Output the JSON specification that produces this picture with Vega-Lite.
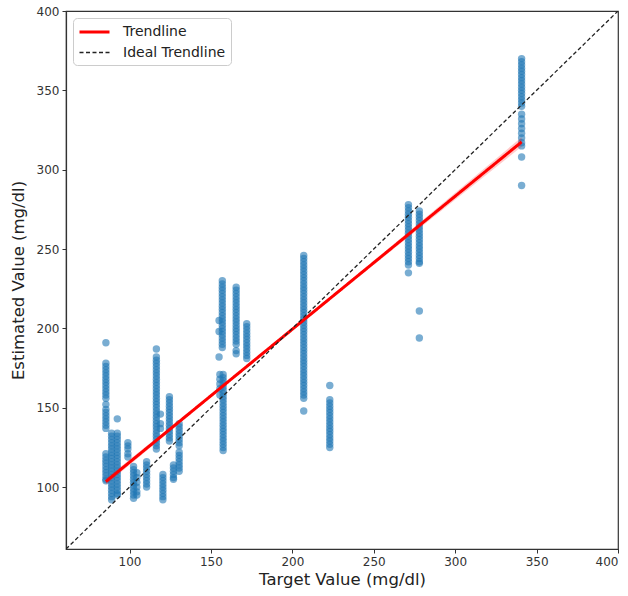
{
  "$schema": "https://vega.github.io/schema/vega-lite/v6.json",
  "width": 552,
  "height": 538,
  "autosize": {"type": "none"},
  "padding": {"left": 66, "top": 11, "right": 10, "bottom": 47},
  "config": {
    "font": "DejaVu Sans",
    "view": {"stroke": "#333333", "strokeWidth": 1.2},
    "axis": {
      "grid": false,
      "domainColor": "#333333",
      "domainWidth": 1.2,
      "tickColor": "#333333",
      "tickSize": 4,
      "labelColor": "#333333",
      "labelFontSize": 12,
      "labelPadding": 3,
      "titleFontSize": 16.5,
      "titleFontWeight": "normal",
      "titleColor": "#222222"
    },
    "axisX": {"titlePadding": 4},
    "axisY": {"titlePadding": 10},
    "legend": {
      "orient": "top-left",
      "offset": 7,
      "fillColor": "white",
      "strokeColor": "#cccccc",
      "cornerRadius": 4,
      "padding": 5,
      "labelFontSize": 14,
      "labelColor": "#222222",
      "symbolType": "M-1,0H3",
      "symbolSize": 225,
      "labelOffset": 27,
      "rowPadding": 5
    }
  },
  "datasets": {
    "pts": [
      {"t":85.5,"e":191},{"t":85.5,"e":178},{"t":85.5,"e":176},{"t":85.5,"e":174},{"t":85.5,"e":172},{"t":85.5,"e":170},{"t":85.5,"e":168},{"t":85.5,"e":166},{"t":85.5,"e":164},{"t":85.5,"e":162},{"t":85.5,"e":160},{"t":85.5,"e":158},{"t":85.5,"e":156},{"t":85.5,"e":152},{"t":85.5,"e":149},{"t":85.5,"e":147},{"t":85.5,"e":145},{"t":85.5,"e":143},{"t":85.5,"e":141},{"t":85.5,"e":139},{"t":85.5,"e":137},{"t":85.5,"e":121},{"t":85.5,"e":119},{"t":85.5,"e":117},{"t":85.5,"e":115},{"t":85.5,"e":113},{"t":85.5,"e":111},{"t":85.5,"e":109},{"t":85.5,"e":107},{"t":85.5,"e":105},{"t":85.5,"e":104},
      {"t":89,"e":134},{"t":89,"e":132},{"t":89,"e":130},{"t":89,"e":128},{"t":89,"e":126},{"t":89,"e":124},{"t":89,"e":122},{"t":89,"e":120},{"t":89,"e":118},{"t":89,"e":116},{"t":89,"e":114},{"t":89,"e":112},{"t":89,"e":110},{"t":89,"e":108},{"t":89,"e":106},{"t":89,"e":104},{"t":89,"e":102},{"t":89,"e":100},{"t":89,"e":98},{"t":89,"e":96},{"t":89,"e":94},{"t":89,"e":92},
      {"t":92.5,"e":143},{"t":92.5,"e":134},{"t":92.5,"e":132},{"t":92.5,"e":130},{"t":92.5,"e":128},{"t":92.5,"e":126},{"t":92.5,"e":124},{"t":92.5,"e":122},{"t":92.5,"e":120},{"t":92.5,"e":118},{"t":92.5,"e":116},{"t":92.5,"e":114},{"t":92.5,"e":112},{"t":92.5,"e":110},{"t":92.5,"e":108},{"t":92.5,"e":106},{"t":92.5,"e":104},{"t":92.5,"e":102},{"t":92.5,"e":100},{"t":92.5,"e":98},{"t":92.5,"e":96},{"t":92.5,"e":95},
      {"t":99,"e":128},{"t":99,"e":126},{"t":99,"e":124},{"t":99,"e":121},{"t":99,"e":119},
      {"t":102.5,"e":113},{"t":102.5,"e":111},{"t":102.5,"e":109},{"t":102.5,"e":107},{"t":102.5,"e":105},{"t":102.5,"e":103},{"t":102.5,"e":101},{"t":102.5,"e":99},{"t":102.5,"e":97},{"t":102.5,"e":95},{"t":102.5,"e":93},
      {"t":104.5,"e":109},{"t":104.5,"e":106},{"t":104.5,"e":103},{"t":104.5,"e":100},{"t":104.5,"e":97},{"t":104.5,"e":95},
      {"t":110.5,"e":116},{"t":110.5,"e":114},{"t":110.5,"e":112},{"t":110.5,"e":110},{"t":110.5,"e":108},{"t":110.5,"e":106},{"t":110.5,"e":104},{"t":110.5,"e":102},{"t":110.5,"e":100},
      {"t":116.5,"e":187},{"t":116.5,"e":182},{"t":116.5,"e":180},{"t":116.5,"e":178},{"t":116.5,"e":176},{"t":116.5,"e":174},{"t":116.5,"e":172},{"t":116.5,"e":170},{"t":116.5,"e":168},{"t":116.5,"e":166},{"t":116.5,"e":164},{"t":116.5,"e":162},{"t":116.5,"e":160},{"t":116.5,"e":158},{"t":116.5,"e":156},{"t":116.5,"e":154},{"t":116.5,"e":152},{"t":116.5,"e":150},{"t":116.5,"e":148},{"t":116.5,"e":146},{"t":116.5,"e":144},{"t":116.5,"e":142},{"t":116.5,"e":140},{"t":116.5,"e":138},{"t":116.5,"e":136},{"t":116.5,"e":134},{"t":116.5,"e":132},{"t":116.5,"e":130},{"t":116.5,"e":128},{"t":116.5,"e":126},{"t":116.5,"e":124},
      {"t":119,"e":146},{"t":119,"e":140},{"t":119,"e":137},
      {"t":120.5,"e":108},{"t":120.5,"e":106},{"t":120.5,"e":104},{"t":120.5,"e":102},{"t":120.5,"e":100},{"t":120.5,"e":98},{"t":120.5,"e":96},{"t":120.5,"e":94},{"t":120.5,"e":92},
      {"t":124.5,"e":157},{"t":124.5,"e":155},{"t":124.5,"e":153},{"t":124.5,"e":151},{"t":124.5,"e":149},{"t":124.5,"e":147},{"t":124.5,"e":145},{"t":124.5,"e":143},{"t":124.5,"e":141},{"t":124.5,"e":139},{"t":124.5,"e":137},{"t":124.5,"e":135},{"t":124.5,"e":133},{"t":124.5,"e":131},{"t":124.5,"e":129},
      {"t":127,"e":114},{"t":127,"e":112},{"t":127,"e":110},{"t":127,"e":108},{"t":127,"e":106},{"t":127,"e":105},
      {"t":130.5,"e":140},{"t":130.5,"e":138},{"t":130.5,"e":136},{"t":130.5,"e":134},{"t":130.5,"e":132},{"t":130.5,"e":130},{"t":130.5,"e":128},{"t":130.5,"e":126},{"t":130.5,"e":122},{"t":130.5,"e":120},{"t":130.5,"e":118},{"t":130.5,"e":116},{"t":130.5,"e":114},{"t":130.5,"e":112},{"t":130.5,"e":110},
      {"t":157,"e":230},{"t":157,"e":228},{"t":157,"e":226},{"t":157,"e":224},{"t":157,"e":222},{"t":157,"e":220},{"t":157,"e":218},{"t":157,"e":216},{"t":157,"e":214},{"t":157,"e":212},{"t":157,"e":210},{"t":157,"e":208},{"t":157,"e":206},{"t":157,"e":204},{"t":157,"e":202},{"t":157,"e":200},{"t":157,"e":198},{"t":157,"e":196},{"t":157,"e":194},{"t":157,"e":192},{"t":157,"e":190},{"t":157,"e":188},
      {"t":155,"e":205},{"t":155,"e":198},{"t":155,"e":182},
      {"t":157.5,"e":171},{"t":157.5,"e":169},{"t":157.5,"e":167},{"t":157.5,"e":165},{"t":157.5,"e":163},{"t":157.5,"e":161},{"t":157.5,"e":159},{"t":157.5,"e":157},{"t":157.5,"e":155},{"t":157.5,"e":153},{"t":157.5,"e":151},{"t":157.5,"e":149},{"t":157.5,"e":147},{"t":157.5,"e":145},{"t":157.5,"e":143},{"t":157.5,"e":141},{"t":157.5,"e":139},{"t":157.5,"e":137},{"t":157.5,"e":135},{"t":157.5,"e":133},{"t":157.5,"e":131},{"t":157.5,"e":129},{"t":157.5,"e":127},{"t":157.5,"e":125},{"t":157.5,"e":123},
      {"t":155.5,"e":171},{"t":155.5,"e":168},{"t":155.5,"e":165},{"t":155.5,"e":162},{"t":155.5,"e":158},
      {"t":165.5,"e":226},{"t":165.5,"e":224},{"t":165.5,"e":222},{"t":165.5,"e":220},{"t":165.5,"e":218},{"t":165.5,"e":216},{"t":165.5,"e":214},{"t":165.5,"e":212},{"t":165.5,"e":210},{"t":165.5,"e":208},{"t":165.5,"e":206},{"t":165.5,"e":204},{"t":165.5,"e":202},{"t":165.5,"e":200},{"t":165.5,"e":198},{"t":165.5,"e":196},{"t":165.5,"e":194},{"t":165.5,"e":192},{"t":165.5,"e":190},{"t":165.5,"e":186},{"t":165.5,"e":184},
      {"t":172,"e":203},{"t":172,"e":201},{"t":172,"e":199},{"t":172,"e":197},{"t":172,"e":195},{"t":172,"e":193},{"t":172,"e":191},{"t":172,"e":189},{"t":172,"e":187},{"t":172,"e":185},{"t":172,"e":183},{"t":172,"e":181},
      {"t":207,"e":246},{"t":207,"e":244},{"t":207,"e":242},{"t":207,"e":240},{"t":207,"e":238},{"t":207,"e":236},{"t":207,"e":234},{"t":207,"e":232},{"t":207,"e":230},{"t":207,"e":228},{"t":207,"e":226},{"t":207,"e":224},{"t":207,"e":222},{"t":207,"e":220},{"t":207,"e":218},{"t":207,"e":216},{"t":207,"e":214},{"t":207,"e":212},{"t":207,"e":210},{"t":207,"e":208},{"t":207,"e":206},{"t":207,"e":204},{"t":207,"e":202},{"t":207,"e":200},{"t":207,"e":198},{"t":207,"e":196},{"t":207,"e":194},{"t":207,"e":192},{"t":207,"e":190},{"t":207,"e":188},{"t":207,"e":186},{"t":207,"e":184},{"t":207,"e":182},{"t":207,"e":180},{"t":207,"e":178},{"t":207,"e":176},{"t":207,"e":174},{"t":207,"e":172},{"t":207,"e":170},{"t":207,"e":168},{"t":207,"e":166},{"t":207,"e":164},{"t":207,"e":162},{"t":207,"e":160},{"t":207,"e":158},{"t":207,"e":156},{"t":207,"e":148},
      {"t":223,"e":164},{"t":223,"e":155},{"t":223,"e":153},{"t":223,"e":151},{"t":223,"e":149},{"t":223,"e":147},{"t":223,"e":145},{"t":223,"e":143},{"t":223,"e":141},{"t":223,"e":139},{"t":223,"e":137},{"t":223,"e":135},{"t":223,"e":133},{"t":223,"e":131},{"t":223,"e":129},{"t":223,"e":127},{"t":223,"e":125},
      {"t":271.3,"e":278},{"t":271.3,"e":276},{"t":271.3,"e":274},{"t":271.3,"e":272},{"t":271.3,"e":270},{"t":271.3,"e":268},{"t":271.3,"e":266},{"t":271.3,"e":264},{"t":271.3,"e":262},{"t":271.3,"e":260},{"t":271.3,"e":258},{"t":271.3,"e":256},{"t":271.3,"e":254},{"t":271.3,"e":252},{"t":271.3,"e":250},{"t":271.3,"e":248},{"t":271.3,"e":246},{"t":271.3,"e":244},{"t":271.3,"e":242},{"t":271.3,"e":240},{"t":271.3,"e":235},
      {"t":278,"e":274},{"t":278,"e":272},{"t":278,"e":270},{"t":278,"e":268},{"t":278,"e":266},{"t":278,"e":264},{"t":278,"e":262},{"t":278,"e":260},{"t":278,"e":258},{"t":278,"e":256},{"t":278,"e":254},{"t":278,"e":252},{"t":278,"e":250},{"t":278,"e":248},{"t":278,"e":246},{"t":278,"e":244},{"t":278,"e":242},{"t":278,"e":241},{"t":278,"e":211},{"t":278,"e":194},
      {"t":340.8,"e":370},{"t":340.8,"e":368},{"t":340.8,"e":366},{"t":340.8,"e":364},{"t":340.8,"e":362},{"t":340.8,"e":360},{"t":340.8,"e":358},{"t":340.8,"e":356},{"t":340.8,"e":354},{"t":340.8,"e":352},{"t":340.8,"e":350},{"t":340.8,"e":348},{"t":340.8,"e":346},{"t":340.8,"e":344},{"t":340.8,"e":342},{"t":340.8,"e":340},{"t":340.8,"e":335},{"t":340.8,"e":332},{"t":340.8,"e":329},{"t":340.8,"e":326},{"t":340.8,"e":323},{"t":340.8,"e":320},{"t":340.8,"e":317},{"t":340.8,"e":315},{"t":340.8,"e":308},{"t":340.8,"e":290}
    ],
    "band": [
      {"t":85.5,"e":101.5,"e2":105.5},
      {"t":130,"e":139.6,"e2":142.0},
      {"t":180,"e":181.9,"e2":183.5},
      {"t":230,"e":223.6,"e2":225.6},
      {"t":280,"e":264.7,"e2":268.3},
      {"t":340.8,"e":314.5,"e2":320.5}
    ],
    "lines": [
      {"t":85.5,"e":103.5,"s":"Trendline"},
      {"t":340.8,"e":317.5,"s":"Trendline"},
      {"t":61,"e":61,"s":"Ideal Trendline"},
      {"t":400,"e":400,"s":"Ideal Trendline"}
    ]
  },
  "layer": [
    {
      "data": {"name": "pts"},
      "mark": {"type": "circle", "size": 55, "color": "#1f77b4", "opacity": 0.6},
      "encoding": {
        "x": {"field": "t", "type": "quantitative", "scale": {"domain": [61, 400], "nice": false, "zero": false}, "axis": {"values": [100, 150, 200, 250, 300, 350, 400]}, "title": "Target Value (mg/dl)"},
        "y": {"field": "e", "type": "quantitative", "scale": {"domain": [61, 400], "nice": false, "zero": false}, "axis": {"values": [100, 150, 200, 250, 300, 350, 400]}, "title": "Estimated Value (mg/dl)"}
      }
    },
    {
      "data": {"name": "band"},
      "mark": {"type": "area", "color": "#ff0000", "opacity": 0.2},
      "encoding": {
        "x": {"field": "t", "type": "quantitative", "title": "Target Value (mg/dl)"},
        "y": {"field": "e", "type": "quantitative", "title": "Estimated Value (mg/dl)"},
        "y2": {"field": "e2"}
      }
    },
    {
      "data": {"name": "lines"},
      "mark": {"type": "line", "clip": true},
      "encoding": {
        "x": {"field": "t", "type": "quantitative", "title": "Target Value (mg/dl)"},
        "y": {"field": "e", "type": "quantitative", "title": "Estimated Value (mg/dl)"},
        "color": {"field": "s", "type": "nominal", "title": null, "scale": {"domain": ["Trendline", "Ideal Trendline"], "range": ["#ff0000", "#222222"]}},
        "strokeDash": {"field": "s", "type": "nominal", "title": null, "scale": {"domain": ["Trendline", "Ideal Trendline"], "range": [[1, 0], [4, 2.5]]}},
        "strokeWidth": {"field": "s", "type": "nominal", "title": null, "scale": {"domain": ["Trendline", "Ideal Trendline"], "range": [3, 1.3]}}
      }
    }
  ]
}
